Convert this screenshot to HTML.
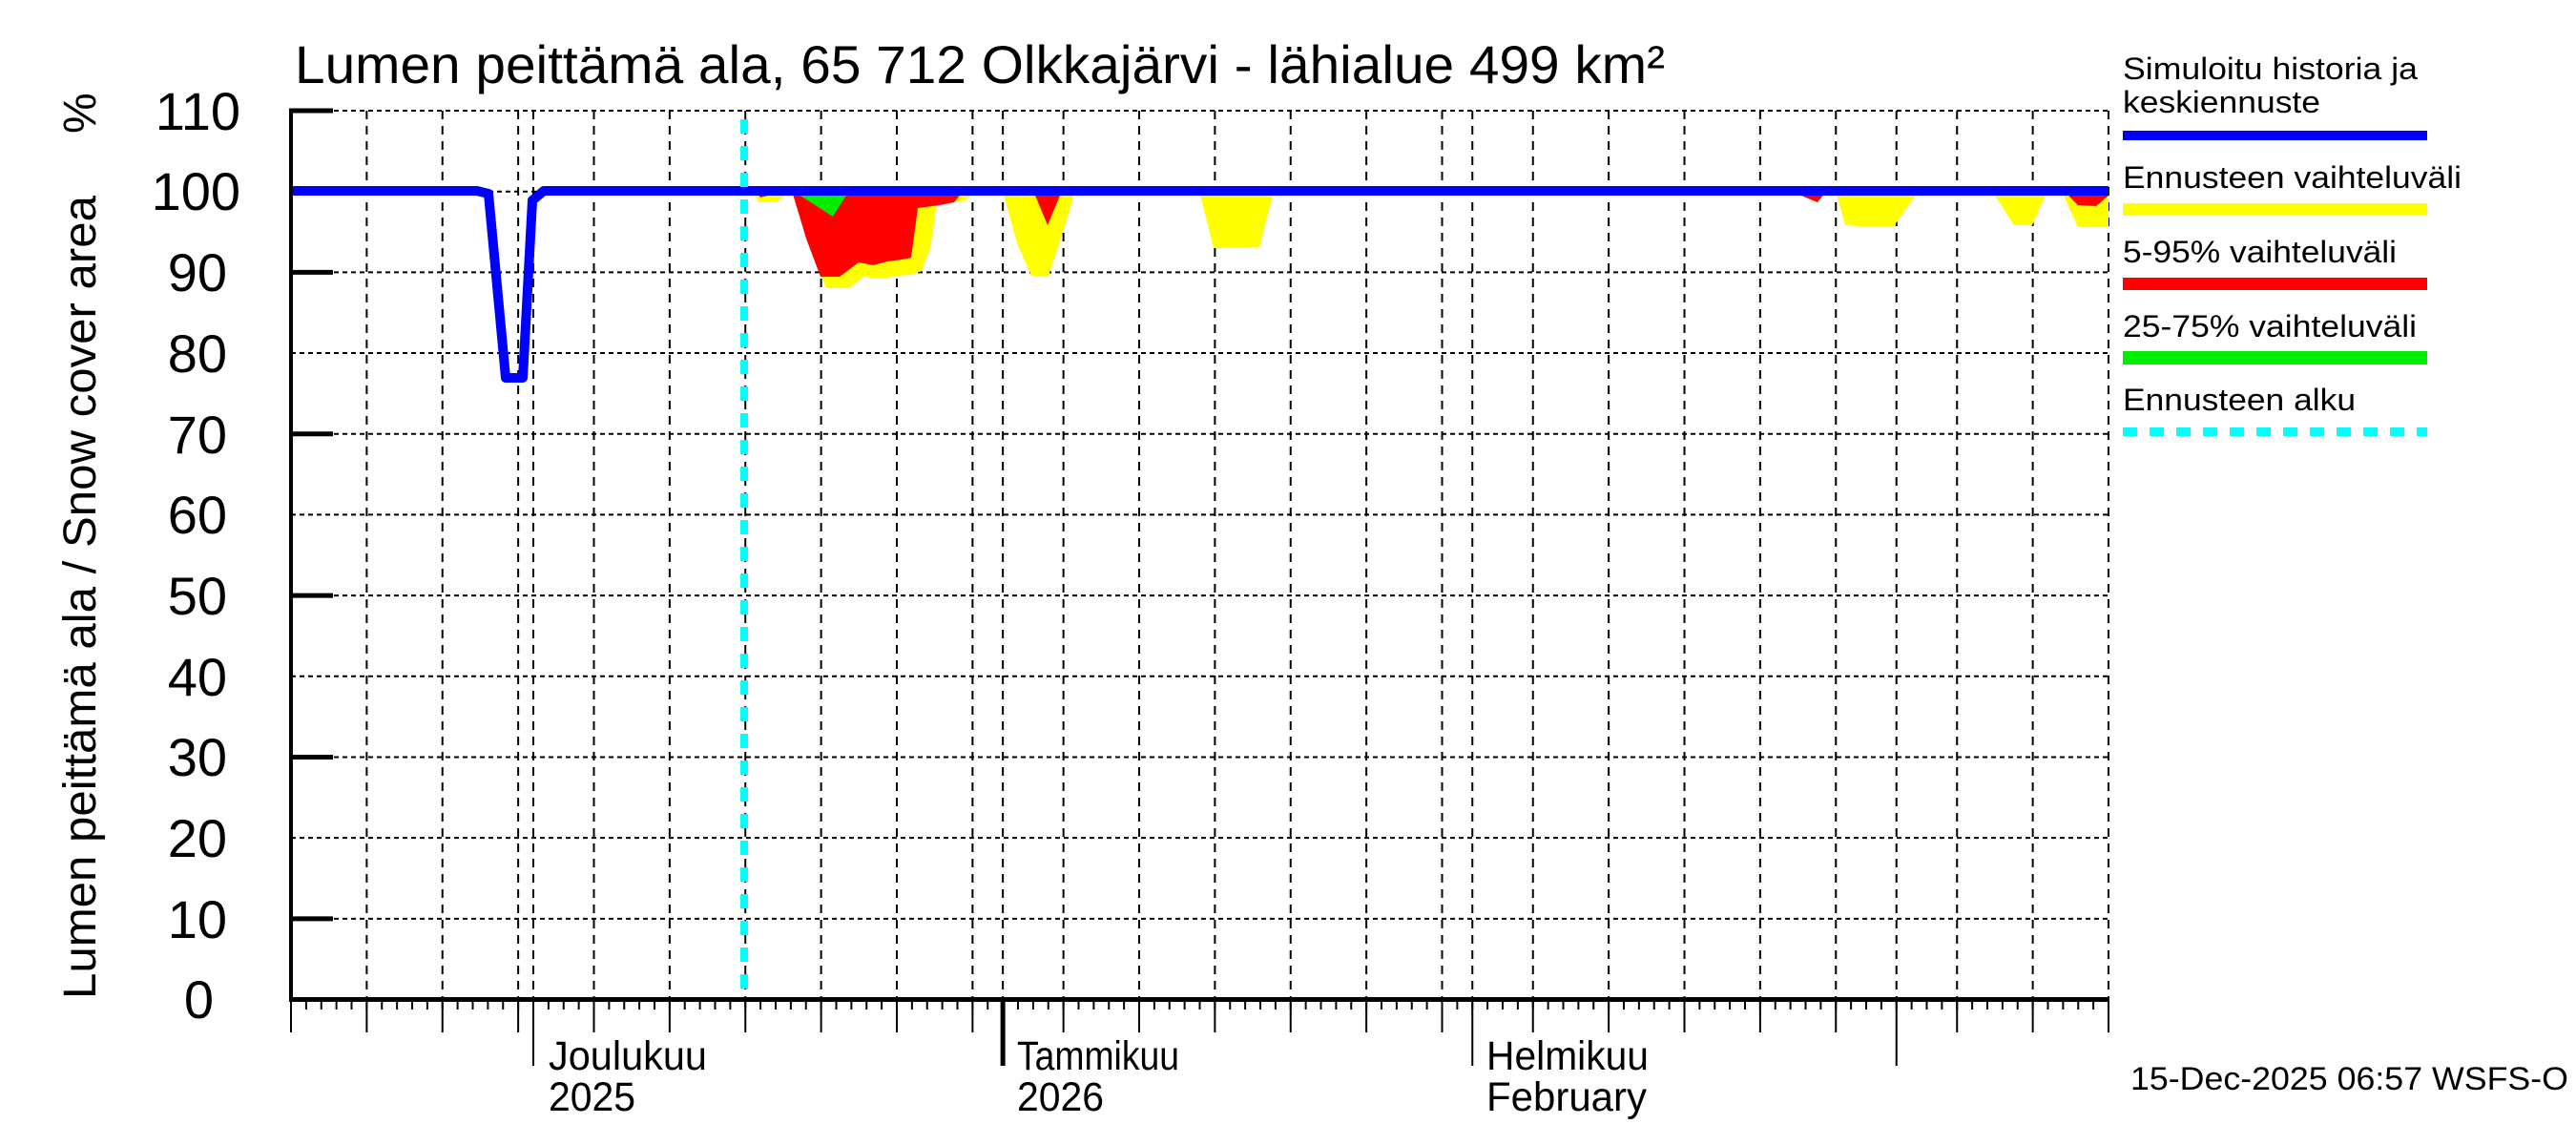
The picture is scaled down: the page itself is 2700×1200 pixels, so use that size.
<!DOCTYPE html>
<html><head><meta charset="utf-8"><style>html,body{margin:0;padding:0;background:#fff}svg{display:block}</style></head>
<body>
<svg id="c" xmlns="http://www.w3.org/2000/svg" width="2700" height="1200" viewBox="0 0 2700 1200" font-family="Liberation Sans, Arial, sans-serif">
<rect width="2700" height="1200" fill="#fff"/>
<g id="grid" stroke="#000" stroke-width="2" stroke-dasharray="5,4" fill="none"></g>
<!-- bands -->
<g>
<polygon fill="#ffff00" points="789,200 795,212 814,212 828,200"/>
<polygon fill="#ffff00" points="836,200 850,260 866,302 890,302 905,290 925,292 940,289 955,288 966,284 975,260 982,212 1000,212 1012,210 1024,200"/>
<polygon fill="#ff0000" points="830,200 845,250 860,290 880,290 900,275 915,278 930,274 945,272 955,270 962,218 985,215 1000,212 1010,200"/>
<polygon fill="#ff0000" points="792,200 797,207 805,205 810,200"/>
<polygon fill="#00ee00" points="831,200 873,227 890,200"/>
<polygon fill="#ffff00" points="1051,200 1066,255 1081,289 1099,289 1115,240 1127,200"/>
<polygon fill="#ff0000" points="1083,200 1098,236 1113,200"/>
<polygon fill="#ffff00" points="1257,200 1272,260 1320,259 1335,200"/>
<polygon fill="#ff0000" points="1881,200 1888,205 1905,212 1915,200"/>
<polygon fill="#ffff00" points="1924,200 1934,236 1948,237 1985,237 2011,200"/>
<polygon fill="#ffff00" points="2088,200 2111,236 2130,236 2146,200"/>
<polygon fill="#ffff00" points="2153,200 2163,205 2178,238 2210,238 2210,200"/>
<polygon fill="#ff0000" points="2163,200 2178,215 2197,216 2210,205 2210,200"/>
</g>
<!-- blue line -->
<polyline fill="none" stroke="#0000ff" stroke-width="10" stroke-linejoin="round" points="305,200 500,200 512,203 530,396 548,396 558,210 570,200 2210,200"/>
<!-- forecast start -->
<line x1="780" y1="125" x2="780" y2="1047" stroke="#00ffff" stroke-width="8" stroke-dasharray="15,13"/>
<g id="ticks" stroke="#000" fill="none"></g>
<!-- axes -->
<line x1="305" y1="116" x2="305" y2="1050" stroke="#000" stroke-width="4"/>
<line x1="303" y1="1047.5" x2="2210" y2="1047.5" stroke="#000" stroke-width="5"/>
<!-- y labels -->
<g font-size="56" text-anchor="end" fill="#000">
<text x="252" y="136">110</text><text x="252" y="220">100</text><text x="238" y="305">90</text><text x="238" y="390">80</text><text x="238" y="475">70</text><text x="238" y="559">60</text><text x="238" y="644">50</text><text x="238" y="729">40</text><text x="238" y="813">30</text><text x="238" y="898">20</text><text x="238" y="983">10</text><text x="224" y="1067">0</text>
</g>
<text transform="translate(100,1047) rotate(-90)" font-size="48" textLength="842" lengthAdjust="spacingAndGlyphs">Lumen peittämä ala / Snow cover area</text>
<text transform="translate(100,140) rotate(-90)" font-size="48">%</text>
<text x="309" y="87" font-size="56" textLength="1436" lengthAdjust="spacingAndGlyphs">Lumen peittämä ala, 65 712 Olkkajärvi - lähialue 499 km²</text>
<!-- month labels -->
<g font-size="43">
<text x="575" y="1121" textLength="166" lengthAdjust="spacingAndGlyphs">Joulukuu</text>
<text x="575" y="1164" textLength="91" lengthAdjust="spacingAndGlyphs">2025</text>
<text x="1066" y="1121" textLength="170" lengthAdjust="spacingAndGlyphs">Tammikuu</text>
<text x="1066" y="1164" textLength="91" lengthAdjust="spacingAndGlyphs">2026</text>
<text x="1558" y="1121" textLength="170" lengthAdjust="spacingAndGlyphs">Helmikuu</text>
<text x="1558" y="1164" textLength="168" lengthAdjust="spacingAndGlyphs">February</text>
</g>
<!-- legend -->
<g font-size="32">
<text x="2225" y="83" textLength="309" lengthAdjust="spacingAndGlyphs">Simuloitu historia ja</text>
<text x="2225" y="118" textLength="207" lengthAdjust="spacingAndGlyphs">keskiennuste</text>
<rect x="2225" y="137" width="319" height="10" fill="#0000ff"/>
<text x="2225" y="197" textLength="355" lengthAdjust="spacingAndGlyphs">Ennusteen vaihteluväli</text>
<rect x="2225" y="213" width="319" height="13" fill="#ffff00"/>
<text x="2225" y="275" textLength="287" lengthAdjust="spacingAndGlyphs">5-95% vaihteluväli</text>
<rect x="2225" y="291" width="319" height="13" fill="#ff0000"/>
<text x="2225" y="353" textLength="308" lengthAdjust="spacingAndGlyphs">25-75% vaihteluväli</text>
<rect x="2225" y="368" width="319" height="14" fill="#00ee00"/>
<text x="2225" y="430" textLength="244" lengthAdjust="spacingAndGlyphs">Ennusteen alku</text>
<line x1="2225" y1="452.5" x2="2544" y2="452.5" stroke="#00ffff" stroke-width="9" stroke-dasharray="15,13"/>
</g>
<text x="2692" y="1142" font-size="34" text-anchor="end" textLength="459" lengthAdjust="spacingAndGlyphs">15-Dec-2025 06:57 WSFS-O</text>
<script>
(function(){
var ns="http://www.w3.org/2000/svg";
function L(g,x1,y1,x2,y2,w,extra){var l=document.createElementNS(ns,"line");l.setAttribute("x1",x1);l.setAttribute("y1",y1);l.setAttribute("x2",x2);l.setAttribute("y2",y2);l.setAttribute("stroke-width",w);if(extra)l.setAttribute("stroke-dasharray",extra);g.appendChild(l);}
var g=document.getElementById("grid"),t=document.getElementById("ticks");
function Y(v){return 1047.5-8.468*v;}
for(var v=10;v<=110;v+=10){L(g,305,Y(v),2210,Y(v),2);}
function X(d){return 305+15.875*d;}
var five=[5,10,15,20,25,30,35,40,45,51,56,61,66,71,76,82,87,92,97,102,110,115,120];
var months=[16,47,78,106];
var grids=five.concat(months);
grids.forEach(function(d){L(g,X(d),116,X(d),1047,2,"9,7");});
for(var d=0;d<=120;d++){L(t,X(d),1047,X(d),1058,2);}
five.forEach(function(d){L(t,X(d),1047,X(d),1082,2);});
L(t,X(0),1047,X(0),1082,2);
months.forEach(function(d){L(t,X(d),1047,X(d),1117,d==47?5:2);});
for(var v=10;v<=110;v+=20){L(t,303,Y(v),349,Y(v),5);}
})();
</script>
</svg>
</body></html>
